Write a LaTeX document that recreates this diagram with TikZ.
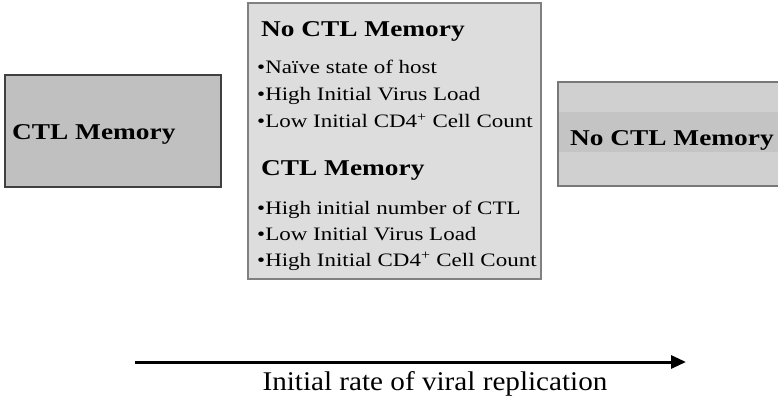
\documentclass[tikz,border=0pt]{standalone}
\usepackage{fontspec}
\setmainfont{Liberation Serif}[FakeStretch=1.21]
\newfontfamily\axisfont{Liberation Serif}[FakeStretch=1.08]
\usetikzlibrary{arrows.meta}

\definecolor{boxdark}{RGB}{192,192,192}
\definecolor{boxlight}{RGB}{221,221,221}
\definecolor{boxmid}{RGB}{208,208,208}
\definecolor{bandgray}{RGB}{196,196,196}

\tikzset{
  txt/.style={anchor=base west, inner sep=0pt},
  headfont/.style={font=\fontsize{22.6}{27}\selectfont\bfseries},
  itemfont/.style={font=\fontsize{19}{22}\selectfont},
}

\begin{document}
\begin{tikzpicture}[x=1pt,y=1pt,yscale=-1,xscale=1]
\useasboundingbox (0,0) rectangle (778,401);
\clip (0,0) rectangle (778,401);

%Shape: Rectangle
\draw  [draw={rgb, 255:red, 64; green, 64; blue, 64 }, fill=boxdark, line width=1.2pt] (5,75) rectangle (221,187) ;
%Shape: Rectangle
\draw  [draw={rgb, 255:red, 128; green, 128; blue, 128 }, fill=boxlight, line width=1.2pt] (248,3) rectangle (541,279) ;
%Shape: Rectangle
\draw  [draw={rgb, 255:red, 120; green, 120; blue, 120 }, fill=boxmid, line width=1.2pt] (558,82) rectangle (790,186) ;
\fill [bandgray] (559,112) rectangle (778,152) ;

% Text Node
\node (leftHead) [txt, headfont] at (12,139.5) {CTL Memory};
% Text Node
\node (rightHead) [txt, headfont] at (570,145) {No CTL Memory};

% Text Node
\node (noMemHead) [txt, headfont] at (261,36.7) {No CTL Memory};
\node (noMemA) [txt, itemfont] at (257,74) {•Naïve state of host};
\node (noMemB) [txt, itemfont] at (257,101) {•High Initial Virus Load};
\node (noMemC) [txt, itemfont] at (257,128) {•Low Initial CD4\textsuperscript{+} Cell Count};

% Text Node
\node (memHead) [txt, headfont] at (261,175) {CTL Memory};
\node (memA) [txt, itemfont] at (257,214) {•High initial number of CTL};
\node (memB) [txt, itemfont] at (257,240) {•Low Initial Virus Load};
\node (memC) [txt, itemfont] at (257,266) {•High Initial CD4\textsuperscript{+} Cell Count};

%Straight Lines
\coordinate (arrStart) at (135,362);
\coordinate (arrEnd) at (686,362);
\draw [line width=3pt, -{Triangle[length=15pt,width=13pt]}] (arrStart) -- (arrEnd) ;

% Text Node
\node (rateLabel) [anchor=base, inner sep=0pt, font=\axisfont\fontsize{27}{32}\selectfont] at (435,390) {Initial rate of viral replication};

\end{tikzpicture}
\end{document}
